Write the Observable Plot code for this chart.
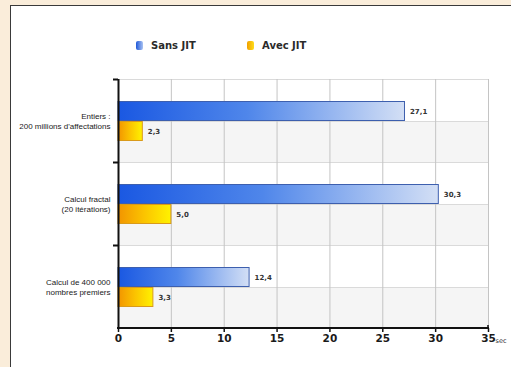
<!DOCTYPE html>
<html><head><meta charset="utf-8">
<script src="https://cdn.jsdelivr.net/npm/d3@7"></script>
<script src="https://cdn.jsdelivr.net/npm/@observablehq/plot@0.6"></script>
<style>
html,body{margin:0;padding:0;width:511px;height:367px;overflow:hidden;background:#faedda;}
#panel{position:absolute;left:10px;top:5px;width:520px;height:380px;background:#fff;border:1.5px solid #3a3a3a;box-sizing:border-box}
#legend{position:absolute;top:38px;left:0;font:bold 10px "DejaVu Sans",sans-serif;color:#2a2a2a}
.item{position:absolute;top:0;display:flex;align-items:center;gap:8px;white-space:nowrap;height:14px}
.sw{width:7px;height:9px;border-radius:2px}
#chart{position:absolute;left:0;top:0}
</style></head><body>
<div id="panel"></div>
<div id="legend"></div>
<div id="chart"></div>
<script>
// ---- data ----
const categories = [
  "Entiers :\n200 millions d'affectations",
  "Calcul fractal\n(20 itérations)",
  "Calcul de 400 000\nnombres premiers"
];
const series = ["Sans JIT", "Avec JIT"];
const sansJIT = [27.1, 30.3, 12.4];
const avecJIT = [2.3, 5.0, 3.3];
const xTicks = [0, 5, 10, 15, 20, 25, 30, 35];
const unitLabel = "sec";

// ---- styles ----
const gradId = {"Sans JIT": "gBlue", "Avec JIT": "gGold"};
const strokeFor = {"Sans JIT": "#3d5fae", "Avec JIT": "#d99a1a"};
const legendBg = {
  "Sans JIT": "linear-gradient(to right,#1f58d8,#a9c2f2)",
  "Avec JIT": "linear-gradient(to right,#f0a000,#ffdc1a)"
};
const legendX = {"Sans JIT": 136, "Avec JIT": 247};

const rows = [];
categories.forEach((c, i) => {
  rows.push({category: c, series: series[0], value: sansJIT[i]});
  rows.push({category: c, series: series[1], value: avecJIT[i]});
});

const fmt = d3.formatLocale({decimal: ",", thousands: " ", grouping: [3], currency: ["", ""]}).format(".1f");
const xDomain = [xTicks[0], xTicks[xTicks.length - 1]];

function bandBackground(index, scales, values, dims) {
  const {x, y} = scales;
  const r = y.range();
  const top = Math.min(r[0], r[1]), bottom = Math.max(r[0], r[1]);
  const mid = y(series[1]);
  const x0 = x(xDomain[0]), x1 = x(xDomain[1]);
  const g = d3.create("svg:g");
  g.append("rect").attr("x", x0).attr("y", mid).attr("width", x1 - x0)
    .attr("height", bottom - mid).attr("fill", "#f5f5f5");
  for (const yy of [top, mid]) {
    g.append("line").attr("x1", x0).attr("x2", x1).attr("y1", yy + 0.5).attr("y2", yy + 0.5)
      .attr("stroke", "#dadada");
  }
  g.append("line").attr("x1", x0 - 5).attr("x2", x0).attr("y1", top + 0.5).attr("y2", top + 0.5)
    .attr("stroke", "#111").attr("stroke-width", 2);
  return g.node();
}

const width = 511, height = 367;
const margin = {top: 78, right: 23, bottom: 39, left: 118};

const plot = Plot.plot({
  width, height,
  marginTop: margin.top, marginRight: margin.right, marginBottom: margin.bottom, marginLeft: margin.left,
  style: {background: "transparent", overflow: "visible"},
  x: {domain: xDomain, axis: null},
  y: {domain: series, paddingInner: 0, paddingOuter: 1, axis: null},
  fy: {domain: categories, padding: 0, axis: null},
  color: {type: "identity"},
  marks: [
    bandBackground,
    Plot.gridX(xTicks, {stroke: "#c4c4c4", strokeOpacity: 1}),
    Plot.barX(rows, {
      fy: "category", y: "series", x: "value",
      fill: d => `url(#${gradId[d.series]})`,
      stroke: d => strokeFor[d.series], strokeWidth: 1,
      insetTop: 0.5, insetBottom: 0.5
    }),
    Plot.text(rows, {
      fy: "category", y: "series", x: "value",
      text: d => fmt(d.value), dx: 5, textAnchor: "start",
      fontSize: 7, fontWeight: "bold", fill: "#333", fontFamily: "DejaVu Sans"
    }),
    Plot.text(categories, {
      fy: d => d, text: d => d, frameAnchor: "left", dx: -8, textAnchor: "end",
      fontSize: 8, fill: "#1a1a1a", fontFamily: "Liberation Sans", lineHeight: 1.2
    }),
    Plot.ruleX([xDomain[0]], {stroke: "#111", strokeWidth: 2}),
    Plot.axisX(xTicks, {
      anchor: "bottom", label: null, tickSize: 4, tickPadding: 2, fontSize: 10.5, fontWeight: "bold",
      fontFamily: "DejaVu Sans", color: "#1a1a1a", stroke: "#111", strokeWidth: 1.5,
      tickFormat: d => String(d)
    })
  ]
});

const svgNode = plot.tagName.toLowerCase() === "svg" ? plot : plot.querySelector("svg");
const svg = d3.select(svgNode);
const defs = svg.insert("defs", ":first-child");
const gb = defs.append("linearGradient").attr("id", "gBlue").attr("x1", "0").attr("x2", "1").attr("y1", "0").attr("y2", "0");
[[0, "#1a58e2"], [0.45, "#4f86ea"], [1, "#d3dff5"]].forEach(([o, c]) => gb.append("stop").attr("offset", o).attr("stop-color", c));
const gg = defs.append("linearGradient").attr("id", "gGold").attr("x1", "0").attr("x2", "1").attr("y1", "0").attr("y2", "0");
[[0, "#f29400"], [0.5, "#fbc400"], [1, "#fff200"]].forEach(([o, c]) => gg.append("stop").attr("offset", o).attr("stop-color", c));

// x axis line + unit label using the plot's x scale
const xs = plot.scale("x");
const yAxis = height - margin.bottom;
svg.append("line").attr("x1", xs.apply(xDomain[0]) - 1).attr("x2", xs.apply(xDomain[1]) + 1)
  .attr("y1", yAxis).attr("y2", yAxis).attr("stroke", "#111").attr("stroke-width", 2);
svg.append("line").attr("x1", xs.apply(xDomain[1])).attr("x2", xs.apply(xDomain[1]))
  .attr("y1", yAxis - 3).attr("y2", yAxis).attr("stroke", "#111").attr("stroke-width", 1.5);
svg.append("text").attr("x", xs.apply(xDomain[1]) + 13).attr("y", yAxis + 15)
  .attr("font-family", "DejaVu Sans").attr("font-size", 6.5).attr("fill", "#333").text(unitLabel);

document.getElementById("chart").appendChild(plot);

// legend
const legend = document.getElementById("legend");
series.forEach(s => {
  const it = document.createElement("div");
  it.className = "item";
  it.style.left = legendX[s] + "px";
  const sw = document.createElement("span");
  sw.className = "sw";
  sw.style.background = legendBg[s];
  const t = document.createElement("span");
  t.textContent = s;
  it.appendChild(sw); it.appendChild(t);
  legend.appendChild(it);
});
</script>
</body></html>
